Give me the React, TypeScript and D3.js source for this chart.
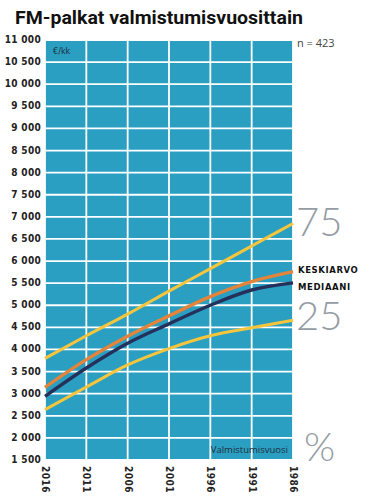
import React from 'react';
import * as d3 from 'd3';

const years = [2016, 2011, 2006, 2001, 1996, 1991, 1986];
const p75 = [3800, 4310, 4800, 5320, 5830, 6340, 6850];
const keskiarvo = [3145, 3770, 4300, 4760, 5195, 5535, 5760];
const mediaani = [2940, 3580, 4140, 4580, 5000, 5345, 5505];
const p25 = [2640, 3150, 3650, 4020, 4310, 4490, 4660];
const yTicks = d3.range(1500, 11001, 500);

const W = 370;
const H = 496;
const left = 45;
const right = 293;
const top = 40;
const bottom = 460;

const blue = '#2b9fc2';
const yellow = '#f6c53c';
const orange = '#e3843a';
const navy = '#25315b';

const fmt = (v: number) => d3.format(',')(v).replace(',', ' ');

const App: React.FC = () => {
  const x = d3.scaleLinear().domain([2016, 1986]).range([left, right]);
  const y = d3.scaleLinear().domain([1500, 11000]).range([bottom, top]);

  const line = d3
    .line<number>()
    .x((_, i) => x(years[i]))
    .y((d) => y(d))
    .curve(d3.curveMonotoneX);

  const series = [
    { vals: p75, color: yellow, w: 3 },
    { vals: p25, color: yellow, w: 3 },
    { vals: keskiarvo, color: orange, w: 3.4 },
    { vals: mediaani, color: navy, w: 3.4 },
  ];

  const labelFont = "'DejaVu Sans Condensed', 'DejaVu Sans', sans-serif";

  return (
    <svg
      width={W}
      height={H}
      style={{ position: 'absolute', left: 0, top: 0, background: '#fff' }}
    >
      <text
        x={15}
        y={24}
        fontFamily="Roboto, sans-serif"
        fontWeight={700}
        fontSize={19}
        fill="#111"
        textLength={288}
        lengthAdjust="spacingAndGlyphs"
      >
        FM-palkat valmistumisvuosittain
      </text>

      <rect x={left} y={top} width={right - left} height={bottom - top} fill={blue} />

      {yTicks.map((t) => (
        <line key={'h' + t} x1={left} x2={right} y1={y(t)} y2={y(t)} stroke="#fff" strokeWidth={1.8} />
      ))}
      {years.map((t) => (
        <line key={'v' + t} x1={x(t)} x2={x(t)} y1={top} y2={bottom} stroke="#fff" strokeWidth={1.8} />
      ))}

      {series.map((s, i) => (
        <path key={i} d={line(s.vals) ?? ''} fill="none" stroke={s.color} strokeWidth={s.w} />
      ))}

      {yTicks.map((t) => (
        <text
          key={'yl' + t}
          x={41}
          y={y(t)}
          textAnchor="end"
          dominantBaseline="middle"
          fontFamily={labelFont}
          fontWeight={700}
          fontSize={10}
          letterSpacing={0.3}
          fill="#222"
        >
          {fmt(t)}
        </text>
      ))}

      {years.map((t) => (
        <text
          key={'xl' + t}
          transform={`translate(${x(t)},466) rotate(90)`}
          dominantBaseline="middle"
          fontFamily={labelFont}
          fontWeight={700}
          fontSize={10}
          letterSpacing={0.5}
          fill="#222"
        >
          {t}
        </text>
      ))}

      <text x={53} y={54} fontFamily={labelFont} fontSize={9} fill="#1d2f3c">
        €/kk
      </text>
      <text x={288} y={453} textAnchor="end" fontFamily="'Open Sans', sans-serif" fontSize={9.5} fill="#1d2f3c">
        Valmistumisvuosi
      </text>
      <text x={297} y={47} fontFamily="'Open Sans', sans-serif" fontSize={11} fill="#444">
        n = 423
      </text>

      <text x={296} y={236} fontFamily="Lato, sans-serif" fontWeight={300} fontSize={40} fill="#959ca4">
        75
      </text>
      <text x={296} y={330} fontFamily="Lato, sans-serif" fontWeight={300} fontSize={40} fill="#959ca4">
        25
      </text>
      <text x={304} y={461} fontFamily="Lato, sans-serif" fontWeight={300} fontSize={40} fill="#959ca4">
        %
      </text>

      <text x={298} y={273} fontFamily="'DejaVu Sans', sans-serif" fontWeight={700} fontSize={8.5} letterSpacing={0.6} fill="#111">
        KESKIARVO
      </text>
      <text x={298} y={289.5} fontFamily="'DejaVu Sans', sans-serif" fontWeight={700} fontSize={8.5} letterSpacing={0.6} fill="#111">
        MEDIAANI
      </text>
    </svg>
  );
};

export default App;
